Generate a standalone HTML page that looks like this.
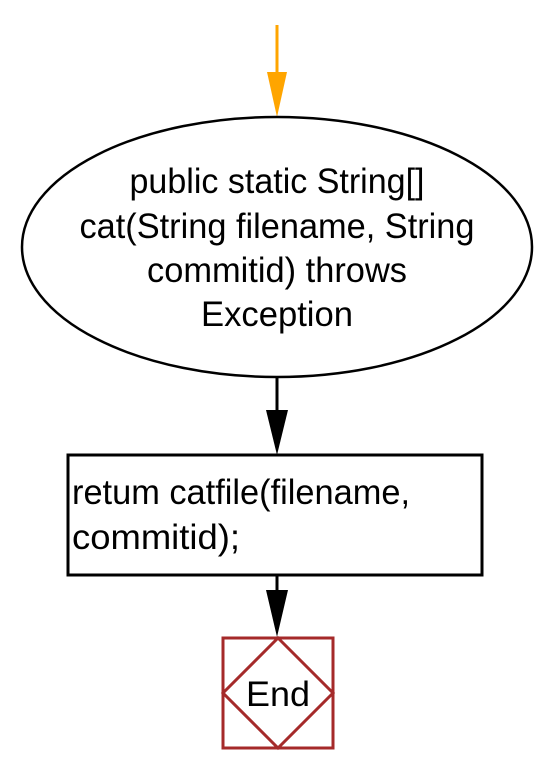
<!DOCTYPE html>
<html><head><meta charset="utf-8"><style>
html,body{margin:0;padding:0;background:#fff;}
svg{display:block;}
text{font-family:"Liberation Sans",Arial,sans-serif;font-size:35px;fill:#000;}
</style></head><body>
<svg width="548" height="775" viewBox="0 0 548 775" xmlns="http://www.w3.org/2000/svg">
<line x1="277" y1="25" x2="277" y2="80" stroke="#FFA500" stroke-width="3"/>
<polygon points="267,72 287,72 277,117" fill="#FFA500"/>
<ellipse cx="277" cy="247" rx="255" ry="130" fill="#fff" stroke="#000" stroke-width="2.5"/>
<text x="277" y="193" text-anchor="middle" textLength="295" lengthAdjust="spacingAndGlyphs">public static String[]</text>
<text x="277" y="238" text-anchor="middle" textLength="395" lengthAdjust="spacingAndGlyphs">cat(String filename, String</text>
<text x="277" y="282" text-anchor="middle" textLength="260" lengthAdjust="spacingAndGlyphs">commitid) throws</text>
<text x="277" y="326" text-anchor="middle" textLength="152" lengthAdjust="spacingAndGlyphs">Exception</text>
<line x1="277" y1="377" x2="277" y2="415" stroke="#000" stroke-width="3"/>
<polygon points="266,410 288,410 277,455" fill="#000"/>
<rect x="68" y="455" width="414" height="120" fill="#fff" stroke="#000" stroke-width="3"/>
<text x="72" y="504" textLength="338" lengthAdjust="spacingAndGlyphs">retum catfile(filename,</text>
<text x="72" y="549" textLength="168" lengthAdjust="spacingAndGlyphs">commitid);</text>
<line x1="277" y1="575" x2="277" y2="595" stroke="#000" stroke-width="3"/>
<polygon points="266,590 288,590 277,637" fill="#000"/>
<rect x="223" y="638" width="110" height="110" fill="#fff" stroke="#a52a2a" stroke-width="3"/>
<polygon points="278,638 333,693 278,748 223,693" fill="none" stroke="#a52a2a" stroke-width="3"/>
<text x="278" y="706" text-anchor="middle" textLength="64" lengthAdjust="spacingAndGlyphs">End</text>
</svg>
</body></html>
